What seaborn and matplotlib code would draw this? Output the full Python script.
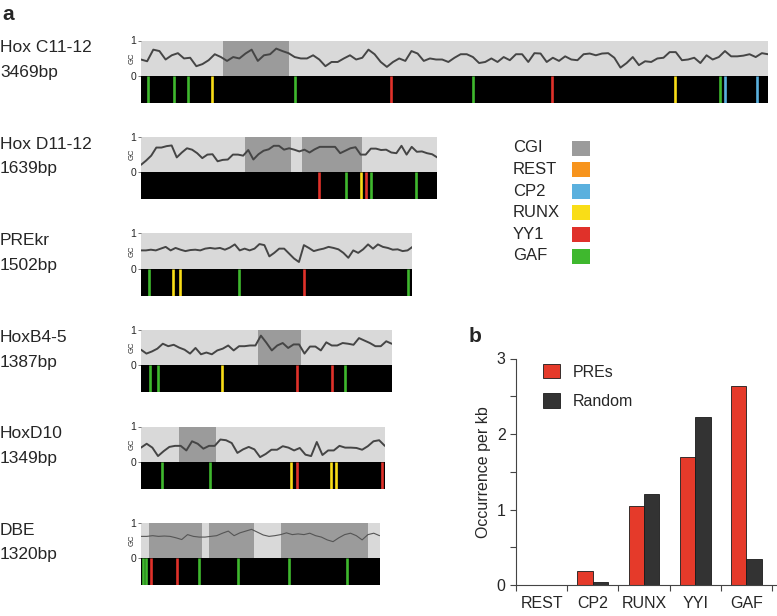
import numpy as np
import pandas as pd
import matplotlib
matplotlib.use("Agg")
import matplotlib.pyplot as plt
import seaborn as sns
from matplotlib.patches import Rectangle

sns.set_style("white")
plt.rcParams['font.family'] = ['Liberation Sans', 'DejaVu Sans']

# ---------------- data ----------------
track_names = ["Hox C11-12", "Hox D11-12", "PREkr", "HoxB4-5", "HoxD10", "DBE"]
track_lengths = [3469, 1639, 1502, 1387, 1349, 1320]

cgi_t1 = [(454, 819)]
cgi_t2 = [(575, 828), (890, 1222)]
cgi_t3 = []
cgi_t4 = [(645, 885)]
cgi_t5 = [(212, 413)]
cgi_t6 = [(44, 336), (378, 623), (773, 1254)]

motif_pos_t1 = [39, 183, 260, 393, 850, 1384, 1838, 2275, 2957, 3201, 3230, 3409]
motif_typ_t1 = ["GAF", "GAF", "GAF", "RUNX", "GAF", "YY1", "GAF", "YY1", "RUNX", "GAF", "CP2", "CP2"]
motif_pos_t2 = [986, 1134, 1215, 1246, 1270, 1519]
motif_typ_t2 = ["YY1", "GAF", "RUNX", "YY1", "GAF", "GAF"]
motif_pos_t3 = [44, 179, 216, 544, 902, 1477]
motif_typ_t3 = ["GAF", "RUNX", "RUNX", "GAF", "YY1", "GAF"]
motif_pos_t4 = [50, 94, 450, 864, 1058, 1130]
motif_typ_t4 = ["GAF", "GAF", "RUNX", "YY1", "YY1", "GAF"]
motif_pos_t5 = [116, 382, 831, 864, 1051, 1080, 1331]
motif_typ_t5 = ["GAF", "GAF", "RUNX", "YY1", "RUNX", "RUNX", "YY1"]
motif_pos_t6 = [10, 28, 55, 201, 322, 535, 820, 1139]
motif_typ_t6 = ["GAF", "GAF", "YY1", "YY1", "GAF", "GAF", "GAF", "GAF"]

gc_t1 = [0.46, 0.41, 0.74, 0.70, 0.46, 0.58, 0.64, 0.49, 0.51, 0.27, 0.33, 0.44, 0.61, 0.53,
         0.42, 0.53, 0.49, 0.63, 0.74, 0.42, 0.58, 0.61, 0.77, 0.70, 0.64, 0.53, 0.49, 0.49,
         0.58, 0.46, 0.27, 0.39, 0.39, 0.49, 0.58, 0.46, 0.51, 0.74, 0.61, 0.39, 0.25, 0.39,
         0.49, 0.42, 0.70, 0.63, 0.42, 0.49, 0.46, 0.46, 0.39, 0.51, 0.61, 0.61, 0.53, 0.36,
         0.39, 0.49, 0.39, 0.53, 0.44, 0.61, 0.61, 0.39, 0.64, 0.63, 0.39, 0.51, 0.42, 0.55,
         0.46, 0.44, 0.61, 0.63, 0.58, 0.63, 0.64, 0.51, 0.23, 0.36, 0.53, 0.30, 0.41, 0.39,
         0.49, 0.51, 0.67, 0.67, 0.44, 0.46, 0.51, 0.36, 0.58, 0.46, 0.53, 0.70, 0.55, 0.55,
         0.57, 0.61, 0.53, 0.64, 0.61]
gc_t2 = [0.21, 0.33, 0.47, 0.70, 0.70, 0.74, 0.76, 0.42, 0.56, 0.68, 0.64, 0.54, 0.40, 0.50,
         0.51, 0.31, 0.35, 0.36, 0.50, 0.50, 0.47, 0.63, 0.36, 0.51, 0.61, 0.65, 0.75, 0.75,
         0.64, 0.68, 0.64, 0.59, 0.64, 0.56, 0.65, 0.72, 0.72, 0.72, 0.72, 0.54, 0.61, 0.68,
         0.71, 0.50, 0.50, 0.67, 0.67, 0.63, 0.64, 0.56, 0.54, 0.75, 0.50, 0.72, 0.58, 0.59,
         0.54, 0.51, 0.42]
gc_t3 = [0.52, 0.52, 0.54, 0.52, 0.57, 0.62, 0.52, 0.59, 0.54, 0.50, 0.53, 0.54, 0.52, 0.57,
         0.59, 0.57, 0.59, 0.54, 0.60, 0.69, 0.52, 0.57, 0.52, 0.57, 0.70, 0.67, 0.35, 0.45,
         0.57, 0.57, 0.43, 0.29, 0.19, 0.67, 0.59, 0.50, 0.54, 0.57, 0.62, 0.59, 0.55, 0.45,
         0.31, 0.52, 0.45, 0.55, 0.69, 0.57, 0.69, 0.62, 0.59, 0.54, 0.55, 0.50, 0.52, 0.62]
gc_t4 = [0.44, 0.33, 0.39, 0.47, 0.61, 0.54, 0.58, 0.50, 0.44, 0.33, 0.49, 0.31, 0.36, 0.31,
         0.42, 0.47, 0.56, 0.42, 0.54, 0.54, 0.56, 0.56, 0.84, 0.64, 0.42, 0.56, 0.63, 0.49,
         0.59, 0.59, 0.33, 0.53, 0.53, 0.42, 0.65, 0.56, 0.56, 0.63, 0.61, 0.58, 0.77, 0.70,
         0.63, 0.54, 0.54, 0.68, 0.61]
gc_t5 = [0.40, 0.51, 0.40, 0.16, 0.30, 0.42, 0.45, 0.45, 0.32, 0.58, 0.51, 0.37, 0.45, 0.45,
         0.63, 0.61, 0.53, 0.25, 0.35, 0.42, 0.35, 0.13, 0.22, 0.34, 0.34, 0.44, 0.40, 0.32,
         0.39, 0.20, 0.16, 0.56, 0.19, 0.32, 0.32, 0.45, 0.40, 0.40, 0.39, 0.34, 0.44, 0.58,
         0.61, 0.45]
gc_t6 = [0.62, 0.62, 0.64, 0.62, 0.63, 0.62, 0.58, 0.53, 0.67, 0.62, 0.60, 0.60, 0.62, 0.64,
         0.71, 0.77, 0.64, 0.72, 0.77, 0.82, 0.74, 0.66, 0.62, 0.64, 0.67, 0.72, 0.67, 0.69,
         0.67, 0.71, 0.64, 0.60, 0.52, 0.47, 0.58, 0.67, 0.71, 0.64, 0.52, 0.67, 0.71, 0.64]

legend_items = ["CGI", "REST", "CP2", "RUNX", "YY1", "GAF"]

bar_categories = ["REST", "CP2", "RUNX", "YYI", "GAF"]
bar_pres = [0.0, 0.19, 1.04, 1.70, 2.63]
bar_random = [0.0, 0.035, 1.20, 2.22, 0.35]

# ---------------- styling ----------------
colors = {"CGI": "#9b9b9b", "REST": "#f7941d", "CP2": "#5ab0de",
          "RUNX": "#f9dd17", "YY1": "#e0312a", "GAF": "#3fb82e"}
bg_gc = "#d9d9d9"

W, H = 777, 616
fig = plt.figure(figsize=(W / 100, H / 100), dpi=100)


def ax_px(x0, y0, x1, y1):
    return fig.add_axes([x0 / W, 1 - y1 / H, (x1 - x0) / W, (y1 - y0) / H])


cgis = [cgi_t1, cgi_t2, cgi_t3, cgi_t4, cgi_t5, cgi_t6]
mpos = [motif_pos_t1, motif_pos_t2, motif_pos_t3, motif_pos_t4, motif_pos_t5, motif_pos_t6]
mtyp = [motif_typ_t1, motif_typ_t2, motif_typ_t3, motif_typ_t4, motif_typ_t5, motif_typ_t6]
gcs = [gc_t1, gc_t2, gc_t3, gc_t4, gc_t5, gc_t6]

px_per_bp = 627 / 3469.0
x_left = 141
for i, name in enumerate(track_names):
    L = track_lengths[i]
    top = 40.5 + 96.5 * i
    mid = top + 35.2
    bot = mid + 27
    x1 = x_left + L * px_per_bp

    ax = ax_px(x_left, top, x1, mid)
    ax.set_facecolor(bg_gc)
    for s, e in cgis[i]:
        ax.axvspan(s, e, color=colors["CGI"], lw=0)
    lw = 0.8 if i == 5 else 1.4
    lc = "#555555" if i == 5 else "#454545"
    sns.lineplot(x=np.linspace(0, L, len(gcs[i])), y=gcs[i], ax=ax, color=lc, lw=lw)
    ax.set_xlim(0, L)
    ax.set_ylim(0, 1)
    ax.set_xticks([])
    ax.set_yticks([0, 1])
    ax.set_yticklabels(["0", "1"], fontsize=7.5)
    ax.tick_params(axis="y", left=True, length=2, width=0.6, pad=1.5, color="#666666")
    for sp in ax.spines.values():
        sp.set_visible(False)
    ax.set_xlabel("")
    ax.set_ylabel("")
    fig.text((x_left - 8.5) / W, 1 - (top + mid) / 2 / H, "GC", rotation=90,
             fontsize=5.5, ha="center", va="center")

    axm = ax_px(x_left, mid, x1, bot)
    axm.set_facecolor("black")
    axm.vlines(mpos[i], 0, 1, colors=[colors[t] for t in mtyp[i]], lw=1.9)
    axm.set_xlim(0, L)
    axm.set_ylim(0, 1)
    axm.set_xticks([])
    axm.set_yticks([])
    for sp in axm.spines.values():
        sp.set_visible(False)

    fig.text(0 / W, 1 - (top + 7.5) / H, name, fontsize=12.5, ha="left", va="center")
    fig.text(0 / W, 1 - (top + 32) / H, f"{L}bp", fontsize=12.5, ha="left", va="center")

# panel a legend
for k, item in enumerate(legend_items):
    yc = 148 + 21.6 * k
    fig.text(513 / W, 1 - yc / H, item, fontsize=12, ha="left", va="center")
    fig.add_artist(Rectangle((572 / W, 1 - (yc + 7.5) / H), 18 / W, 15 / H,
                             transform=fig.transFigure, color=colors[item], lw=0))

fig.text(2 / W, 1 - 15 / H, "a", fontsize=15, fontweight="bold", ha="left", va="center")
fig.text(469 / W, 1 - 337 / H, "b", fontsize=15, fontweight="bold", ha="left", va="center")

# ---------------- panel b ----------------
axb = ax_px(516, 358.5, 776, 585)
df = pd.DataFrame({
    "motif": bar_categories * 2,
    "value": bar_pres + bar_random,
    "set": ["PREs"] * len(bar_categories) + ["Random"] * len(bar_categories),
})
sns.barplot(data=df, x="motif", y="value", hue="set", palette=["#e53a2a", "#333333"],
            width=0.6, saturation=1, edgecolor="#1a1a1a", linewidth=0.6, ax=axb)
axb.set_xlim(-0.5, 4.578)
axb.set_ylim(0, 3)
axb.set_yticks([0, 1, 2, 3])
axb.set_yticks([0.5, 1.5, 2.5], minor=True)
axb.set_xticks(range(len(bar_categories)))
axb.set_xticklabels(bar_categories)
axb.set_xticks(np.arange(-0.5, 5, 1), minor=True)
axb.tick_params(axis="x", which="major", length=0, pad=8, labelsize=11.5)
axb.tick_params(axis="x", which="minor", bottom=True, length=4, width=0.8, color="#444444")
axb.tick_params(axis="y", which="both", left=True, length=4.5, width=0.8, color="#444444",
                labelsize=11.5, pad=3)
sns.despine(ax=axb)
for sp in ["left", "bottom"]:
    axb.spines[sp].set_color("#444444")
    axb.spines[sp].set_linewidth(0.8)
axb.set_ylabel("Occurrence per kb", fontsize=11.5)
axb.set_xlabel("")
h, l = axb.get_legend_handles_labels()
axb.legend(h, l, loc="upper left", bbox_to_anchor=(0.104, 0.975), frameon=False,
           fontsize=11.5, handlelength=1.05, handleheight=1.0, handletextpad=0.8,
           labelspacing=0.85, borderpad=0, borderaxespad=0)

fig.savefig("out.png", dpi=100)
